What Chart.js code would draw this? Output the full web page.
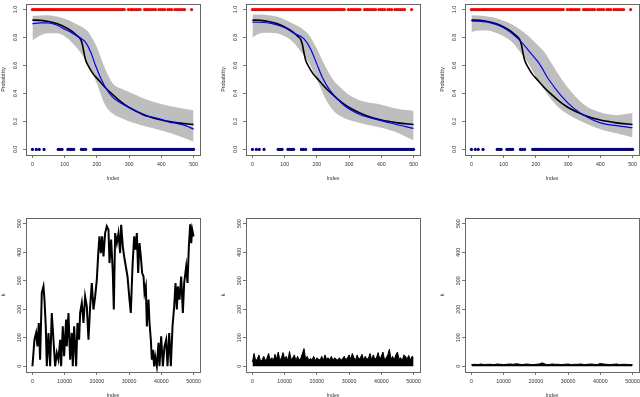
<!DOCTYPE html>
<html>
<head>
<meta charset="utf-8">
<script src="https://cdn.jsdelivr.net/npm/chart.js@4"></script>
<style>
  html, body { margin: 0; padding: 0; background: #fff; }
  body { width: 640px; height: 397px; position: relative; overflow: hidden; }
  canvas { position: absolute; }
</style>
</head>
<body>
<canvas id="p1"></canvas>
<canvas id="p2"></canvas>
<canvas id="p3"></canvas>
<canvas id="p4"></canvas>
<canvas id="p5"></canvas>
<canvas id="p6"></canvas>
<script>
// ---- tick labels ----
const probTicks = [0, 0.2, 0.4, 0.6, 0.8, 1.0];
const indexTicks = [0, 100, 200, 300, 400, 500];
const kTicks = [0, 100, 200, 300, 400, 500];
const longIndexTicks = [0, 10000, 20000, 30000, 40000, 50000];

// ---- observed 0/1 responses (index positions) ----
const onesX = [0,5,10,15,20,25,30,35,40,45,50,55,60,65,70,75,80,85,90,95,100,105,110,115,120,125,130,135,140,145,150,155,160,165,170,175,180,185,190,195,200,205,210,215,220,225,230,235,240,245,250,255,260,265,270,275,280,285,
  298,305,310,316,322,328,334,348,353,358,364,370,376,382,392,398,404,410,420,426,432,442,448,454,460,466,472,494];
const zerosX = [0,12,21,36,80,86,92,110,116,122,128,152,158,165,
  190,195,200,205,210,215,220,225,230,235,240,245,250,255,260,265,270,275,280,285,290,295,300,305,310,315,320,325,330,335,340,345,
  350,355,360,365,370,375,380,385,390,395,400,405,410,415,420,425,430,435,440,445,450,455,460,465,470,475,480,485,490,495,500];

// ---- true probability curve (same in the three top panels) ----
const trueX = [0,25,50,75,100,125,140,150,155,160,165,175,190,200,225,250,275,300,350,400,450,500];
const trueP = [0.925,0.923,0.915,0.9,0.875,0.84,0.81,0.785,0.75,0.69,0.64,0.59,0.535,0.51,0.445,0.39,0.34,0.3,0.245,0.21,0.19,0.178];

// ---- confidence bands ----
const bandX = [0,25,50,75,100,125,150,175,200,225,250,275,300,350,400,450,500];
const band1Hi = [0.955,0.958,0.96,0.95,0.935,0.91,0.88,0.835,0.73,0.58,0.47,0.435,0.41,0.36,0.325,0.30,0.28];
const band1Lo = [0.78,0.815,0.83,0.83,0.81,0.76,0.69,0.60,0.47,0.32,0.255,0.225,0.20,0.165,0.135,0.10,0.055];
const band2Hi = [0.965,0.965,0.96,0.95,0.93,0.90,0.87,0.82,0.72,0.60,0.50,0.44,0.39,0.34,0.32,0.29,0.275];
const band2Lo = [0.80,0.83,0.835,0.83,0.81,0.77,0.70,0.62,0.50,0.37,0.28,0.235,0.21,0.18,0.155,0.12,0.065];
const band3Hi = [0.96,0.957,0.95,0.94,0.92,0.895,0.86,0.815,0.76,0.70,0.61,0.52,0.44,0.32,0.265,0.245,0.26];
const band3Lo = [0.84,0.85,0.85,0.835,0.81,0.77,0.70,0.62,0.52,0.43,0.35,0.29,0.25,0.19,0.145,0.115,0.085];

// ---- estimated curves ----
const fit1X = [0,25,50,75,100,125,150,165,180,195,210,230,250,275,300,325,350,375,400,425,450,475,500];
const fit1P = [0.90,0.905,0.905,0.89,0.86,0.83,0.795,0.765,0.70,0.605,0.52,0.43,0.37,0.33,0.30,0.27,0.24,0.23,0.215,0.195,0.185,0.17,0.145];
const fit2X = [0,50,100,130,160,180,200,216,241,282,333,384,435,500];
const fit2P = [0.91,0.905,0.87,0.83,0.79,0.72,0.61,0.52,0.42,0.32,0.25,0.215,0.185,0.15];
const fit3X = [0,50,100,150,180,210,240,280,320,360,400,450,500];
const fit3P = [0.92,0.91,0.87,0.78,0.70,0.615,0.50,0.38,0.29,0.23,0.19,0.17,0.155];

// ---- k traces (bottom row) ----
const walkX = [0,620,1140,1550,1970,2380,2900,3420,3730,4140,4450,4970,5490,6000,6520,7040,7560,8070,8590,8900,9420,9830,10450,10660,11180,11700,12210,12520,12940,13560,13970,14490,14800,15320,15840,16350,16870,17390,17910,18420,18940,19460,19980,20490,20800,21220,21630,22050,22560,23080,23600,23910,24430,24940,25250,25670,26190,26700,27220,27530,28050,28460,28980,29500,30120,30530,31050,31570,31980,32400,32810,33220,33640,34050,34470,34780,35190,35500,36020,36330,36740,37050,37360,37780,38090,38610,39120,39430,39950,40470,40990,41500,41920,42440,42950,43470,43990,44400,44820,45130,45640,46160,46680,47090,47710,48130,48540,48960,49270,49580,50000];
const walkK = [0,93,117,70,152,23,257,280,234,140,0,117,0,187,93,0,47,23,93,0,140,35,164,70,187,23,117,0,140,0,152,93,187,222,152,245,210,93,210,292,199,245,304,409,456,397,456,385,467,491,479,362,444,327,199,467,432,467,397,496,420,385,350,315,234,187,350,456,409,467,327,432,385,327,315,257,280,140,234,152,93,23,58,0,35,0,82,0,105,0,70,93,0,117,0,140,210,292,199,280,234,315,187,292,350,292,420,498,432,479,455];

// panel 5: top of the dense trace, one value every 500 steps
const step5 = 500;
const k5Top = [15,45,20,25,40,18,22,35,20,28,45,22,30,20,42,25,50,22,30,48,25,35,20,52,24,30,40,20,35,22,28,45,62,25,35,20,28,22,35,20,30,25,22,35,20,40,25,30,22,35,20,30,25,22,30,20,28,35,22,30,40,25,45,30,22,40,25,30,42,22,35,25,28,45,22,40,25,30,48,25,35,50,22,30,40,60,25,35,22,40,50,25,30,20,40,35,25,38,22,35,30];
// panel 6: top of the thin trace, one value every 1000 steps
const step6 = 1000;
const k6Top = [6,7,6,8,6,7,7,6,8,7,6,7,8,7,9,7,6,8,7,6,7,8,12,7,6,8,7,7,6,7,8,6,7,7,8,6,7,8,7,6,10,8,7,6,7,8,6,7,7,6,6];

const FONT = { family: "'Liberation Sans', Arial, sans-serif", size: 5.3 };
const zip = (xs, ys) => xs.map((x, i) => ({ x: x, y: ys[i] }));

// draws the R style box round the plot region
const boxPlugin = {
    id: 'box',
    afterDatasetsDraw(chart) {
        const a = chart.chartArea;
        const ctx = chart.ctx;
        ctx.save();
        ctx.strokeStyle = '#666';
        ctx.lineWidth = 1;
        ctx.strokeRect(Math.round(a.left) + 0.5, Math.round(a.top) + 0.5, Math.round(a.right - a.left), Math.round(a.bottom - a.top));
        ctx.restore();
    }
};

const BOX_W = 174, BOX_H = 154, AXIS_W = 28, AXIS_H = 28, PAD_R = 6;

function axes(o) {
    const tickGrid = { drawOnChartArea: false, drawTicks: true, tickLength: 3, color: '#777' };
    return {
        x: {
            type: 'linear', min: o.xmin, max: o.xmax,
            afterBuildTicks: s => { s.ticks = o.xticks.map(v => ({ value: v })); },
            afterFit: s => { s.height = AXIS_H; s.paddingLeft = 0; s.paddingRight = 0; },
            grid: tickGrid, border: { display: false },
            ticks: { autoSkip: false, maxRotation: 0, minRotation: 0, padding: 3, color: '#333', font: FONT, callback: v => String(v) },
            title: { display: true, text: 'Index', color: '#333', font: FONT, padding: { top: 0, bottom: 1.7 } }
        },
        y: {
            type: 'linear', min: o.ymin, max: o.ymax,
            afterBuildTicks: s => { s.ticks = o.yticks.map(v => ({ value: v })); },
            afterFit: s => { s.width = AXIS_W; s.paddingTop = 0; s.paddingBottom = 0; },
            grid: tickGrid, border: { display: false },
            ticks: {
                autoSkip: false, minRotation: 90, maxRotation: 90, crossAlign: 'center',
                padding: o.ypad, color: '#333', font: FONT,
                callback: o.yfmt
            },
            title: { display: true, text: o.ytitle, color: '#333', font: FONT, padding: { top: o.ytitlePad, bottom: 0 } }
        }
    };
}

function place(id, left, top, padTop) {
    const c = document.getElementById(id);
    c.width = AXIS_W + BOX_W + PAD_R;
    c.height = padTop + BOX_H + AXIS_H;
    c.style.left = (left - AXIS_W) + 'px';
    c.style.top = (top - padTop) + 'px';
    return c;
}

function baseOptions(padTop, scales) {
    return {
        responsive: false, animation: false, devicePixelRatio: 1,
        layout: { padding: { left: 0, top: padTop, right: PAD_R, bottom: 0 } },
        plugins: { legend: { display: false }, tooltip: { enabled: false } },
        scales: scales
    };
}

function probPanel(id, left, bandHi, bandLo, fitX, fitP) {
    const padTop = 1;
    const c = place(id, left, 1, padTop);
    new Chart(c, {
        type: 'line',
        data: {
            datasets: [
                { data: zip(bandX, bandHi), fill: '+1', backgroundColor: '#bebebe', borderColor: 'rgba(0,0,0,0)', borderWidth: 0, pointRadius: 0, cubicInterpolationMode: 'monotone', order: 5 },
                { data: zip(bandX, bandLo), fill: false, borderColor: 'rgba(0,0,0,0)', borderWidth: 0, pointRadius: 0, cubicInterpolationMode: 'monotone', order: 5 },
                { data: zip(trueX, trueP), fill: false, borderColor: '#000', borderWidth: 1.6, pointRadius: 0, cubicInterpolationMode: 'monotone', order: 3 },
                { data: zip(fitX, fitP), fill: false, borderColor: '#0000ff', borderWidth: 1.2, pointRadius: 0, cubicInterpolationMode: 'monotone', order: 2 },
                { data: onesX.map(x => ({ x: x, y: 1 })), showLine: false, pointRadius: 1.6, pointBorderWidth: 0, pointBackgroundColor: '#ff0000', order: 1 },
                { data: zerosX.map(x => ({ x: x, y: 0 })), showLine: false, pointRadius: 1.6, pointBorderWidth: 0, pointBackgroundColor: '#00008b', order: 1 }
            ]
        },
        options: baseOptions(padTop, axes({
            xmin: -20, xmax: 520, xticks: indexTicks,
            ymin: -0.04, ymax: 1.04, yticks: probTicks,
            yfmt: v => v.toFixed(1), ypad: 4, ytitle: 'Probability', ytitlePad: 2.7
        })),
        plugins: [boxPlugin]
    });
}

function kPanel(id, left, dataset) {
    const padTop = 4;
    const c = place(id, left, 218, padTop);
    new Chart(c, {
        type: 'line',
        data: { datasets: [dataset] },
        options: baseOptions(padTop, axes({
            xmin: -2000, xmax: 52000, xticks: longIndexTicks,
            ymin: -20, ymax: 520, yticks: kTicks,
            yfmt: v => String(v), ypad: -1.4, ytitle: 'k', ytitlePad: 2
        })),
        plugins: [boxPlugin]
    });
}

probPanel('p1', 26, band1Hi, band1Lo, fit1X, fit1P);
probPanel('p2', 246, band2Hi, band2Lo, fit2X, fit2P);
probPanel('p3', 465, band3Hi, band3Lo, fit3X, fit3P);

kPanel('p4', 26, {
    data: zip(walkX, walkK), fill: false, borderColor: '#000', borderWidth: 2, pointRadius: 0, tension: 0
});
kPanel('p5', 246, {
    data: k5Top.map((k, i) => ({ x: i * step5, y: k })), fill: 'origin', backgroundColor: '#000',
    borderColor: '#000', borderWidth: 1, pointRadius: 0, tension: 0
});
kPanel('p6', 465, {
    data: k6Top.map((k, i) => ({ x: i * step6, y: k })), fill: 'origin', backgroundColor: '#000',
    borderColor: '#000', borderWidth: 1, pointRadius: 0, tension: 0
});
</script>
</body>
</html>
